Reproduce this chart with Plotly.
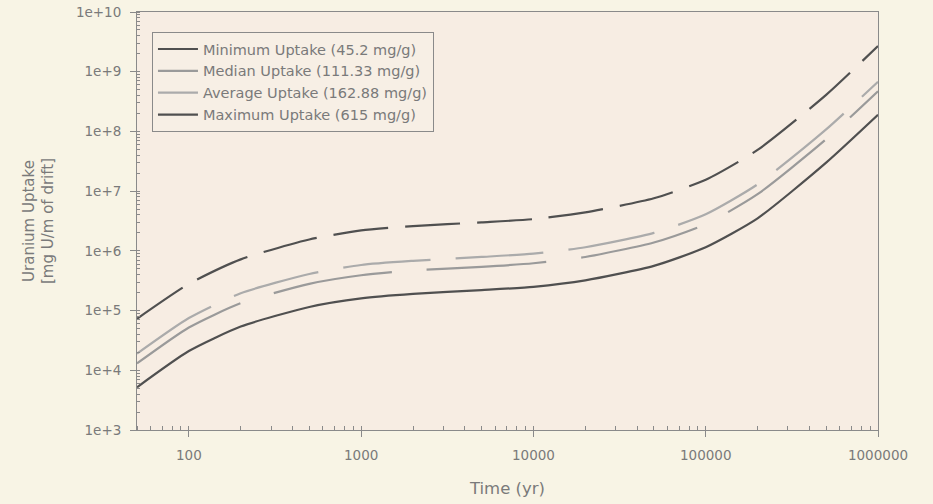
import plotly.graph_objects as go

time_yr = [50, 100, 200, 500, 1000, 2000, 5000, 10000, 20000, 50000, 100000, 200000, 500000, 1000000]

minimum_uptake = [5.2e3, 2.1e4, 5.4e4, 1.15e5, 1.6e5, 1.9e5, 2.2e5, 2.5e5, 3.2e5, 5.6e5, 1.15e6, 3.5e6, 3.0e7, 1.9e8]
median_uptake = [1.3e4, 5.2e4, 1.33e5, 2.8e5, 3.9e5, 4.7e5, 5.4e5, 6.2e5, 7.9e5, 1.38e6, 2.8e6, 8.9e6, 7.4e7, 4.7e8]
average_uptake = [1.9e4, 7.5e4, 1.95e5, 4.1e5, 5.8e5, 6.8e5, 7.9e5, 9.0e5, 1.15e6, 2.0e6, 4.1e6, 1.3e7, 1.08e8, 6.8e8]
maximum_uptake = [7.3e4, 2.8e5, 7.2e5, 1.55e6, 2.2e6, 2.6e6, 3.0e6, 3.4e6, 4.4e6, 7.6e6, 1.55e7, 4.9e7, 4.1e8, 2.7e9]

series_names = [
    "Minimum Uptake (45.2 mg/g)",
    "Median Uptake (111.33 mg/g)",
    "Average Uptake (162.88 mg/g)",
    "Maximum Uptake (615 mg/g)",
]

y_tick_vals = [1e3, 1e4, 1e5, 1e6, 1e7, 1e8, 1e9, 1e10]
y_tick_text = ["1e+3", "1e+4", "1e+5", "1e+6", "1e+7", "1e+8", "1e+9", "1e+10"]
x_tick_vals = [100, 1000, 10000, 100000, 1000000]
x_tick_text = ["100", "1000", "10000", "100000", "1000000"]

styles = [
    dict(color="#505050", width=2.2, dash="solid"),
    dict(color="#9a9a9a", width=2.2, dash="120px,35px"),
    dict(color="#ababab", width=2.2, dash="88px,25px"),
    dict(color="#505050", width=2.2, dash="55px,17px"),
]

fig = go.Figure()
for name, vals, st in zip(series_names,
                          [minimum_uptake, median_uptake, average_uptake, maximum_uptake],
                          styles):
    fig.add_trace(go.Scatter(x=time_yr, y=vals, mode="lines", name=name,
                             line=dict(shape="spline", smoothing=0.6, **st)))

font_fam = "DejaVu Sans, Verdana, sans-serif"
axis_col = "#8a8a8a"
txt_col = "#7a7a7a"

fig.update_layout(
    width=933, height=504,
    margin=dict(l=137, r=55, t=12, b=74),
    paper_bgcolor="#f8f4e5",
    plot_bgcolor="#f7ede3",
    font=dict(family=font_fam, color=txt_col, size=13.5),
    showlegend=True,
    legend=dict(
        x=0.0202, y=0.952, xanchor="left", yanchor="top",
        bgcolor="#f7efe5", bordercolor="#8a8a8a", borderwidth=1,
        font=dict(size=14.5, color=txt_col, family=font_fam),
        itemwidth=40,
    ),
)

fig.update_xaxes(
    type="log", range=[1.69897, 6], automargin=False,
    tickvals=x_tick_vals, ticktext=x_tick_text,
    ticks="outside", ticklen=6, tickcolor=axis_col, ticklabelstandoff=7,
    showline=True, linecolor=axis_col, linewidth=1, mirror=True,
    showgrid=False, zeroline=False,
    tickfont=dict(size=13.5, color=txt_col),
    title=dict(text="Time (yr)", font=dict(size=16.5, color=txt_col), standoff=20),
    minor=dict(ticks="inside", ticklen=4, tickcolor=axis_col, dtick="D1", showgrid=False),
)
fig.update_yaxes(
    type="log", range=[3, 10], automargin=False,
    tickvals=y_tick_vals, ticktext=y_tick_text,
    ticks="outside", ticklen=6, tickcolor=axis_col, ticklabelstandoff=6,
    showline=True, linecolor=axis_col, linewidth=1, mirror=True,
    showgrid=False, zeroline=False,
    tickfont=dict(size=13.5, color=txt_col),
    title=dict(text="Uranium Uptake<br>[mg U/m of drift]", font=dict(size=15, color=txt_col), standoff=18),
    minor=dict(ticks="inside", ticklen=3, tickcolor=axis_col, dtick="D1", showgrid=False),
)

fig.write_html("out.html")
